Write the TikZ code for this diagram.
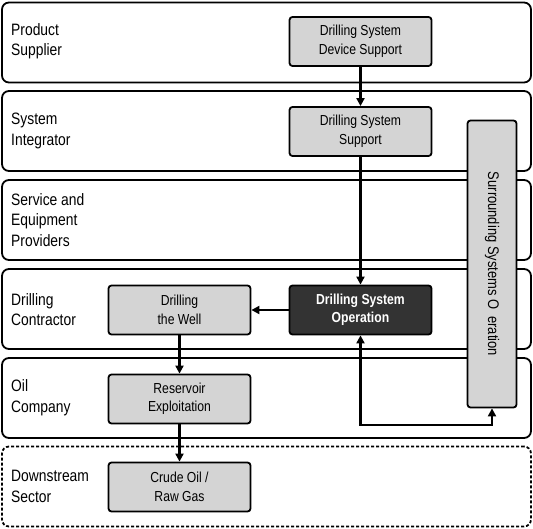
\documentclass[tikz,border=0pt]{standalone}
\usepackage{fontspec}
\setmainfont[FakeStretch=0.84]{Liberation Sans}
\usetikzlibrary{arrows.meta}
\begin{document}
\begin{tikzpicture}[x=1pt,y=-1pt,
  lane/.style={draw=black,line width=1.8pt,rounded corners=7pt,minimum width=529pt,minimum height=80pt,inner sep=0pt},
  lanelabel/.style={anchor=west,align=left,inner sep=0pt,font=\fontsize{16.5}{20.5}\selectfont},
  box/.style={draw=black,line width=1.8pt,rounded corners=3pt,fill=black!17,minimum width=142pt,minimum height=49pt,inner sep=0pt,align=center,font=\fontsize{14.5}{18.5}\selectfont},
  darkbox/.style={box,fill=black!80,text=white,font=\bfseries\fontsize{14.5}{18.5}\selectfont},
  arr/.style={-{Triangle[length=8pt,width=8pt]},line width=2.4pt},
  arrb/.style={{Triangle[length=8pt,width=8pt]}-{Triangle[length=8pt,width=8pt]},line width=2.4pt}
]
\useasboundingbox (0,0) rectangle (533,529);
% lanes
\node[lane] (l1) at (266.5,42.5) {};
\node[lane] (l2) at (266.5,131) {};
\node[lane] (l3) at (266.5,220) {};
\node[lane] (l4) at (266.5,309) {};
\node[lane] (l5) at (266.5,398) {};
\node[lane,dashed,dash pattern=on 3pt off 2pt] (l6) at (266.5,486.5) {};
% lane labels
\node[lanelabel] (t1) at (11,41) {Product\\Supplier};
\node[lanelabel] (t2) at (11,131) {System\\Integrator};
\node[lanelabel] (t3) at (11,220) {Service and\\Equipment\\Providers};
\node[lanelabel] (t4) at (11,309.5) {Drilling\\Contractor};
\node[lanelabel] (t5) at (11,397.5) {Oil\\Company};
\node[lanelabel] (t6) at (11,486.5) {Downstream\\Sector};
% boxes
\node[box] (dsds) at (360.5,41.5) {Drilling System\\Device Support};
\node[box] (dss) at (360.5,131.5) {Drilling System\\Support};
\node[darkbox] (dso) at (360.5,310) {Drilling System\\Operation};
\node[box] (well) at (179.5,310) {Drilling\\the Well};
\node[box] (res) at (179.5,399) {Reservoir\\Exploitation};
\node[box] (crude) at (179.5,487) {Crude Oil /\\Raw Gas};
\node[box,minimum width=287pt,minimum height=49pt,rotate=-90,font=\fontsize{15.4}{18.5}\selectfont] (surr) at (492,264) {Surrounding Systems O\ \ eration};
% connectors
\draw[arr] (dsds) -- (dss);
\draw[arr] (dss) -- (dso);
\draw[arr] (dso) -- (well);
\draw[arr] (well) -- (res);
\draw[arr] (res) -- (crude);
\coordinate (turn) at (360.5,425);
\draw[arrb] (dso.south) -- (turn) -| (surr.east);
\end{tikzpicture}
\end{document}
